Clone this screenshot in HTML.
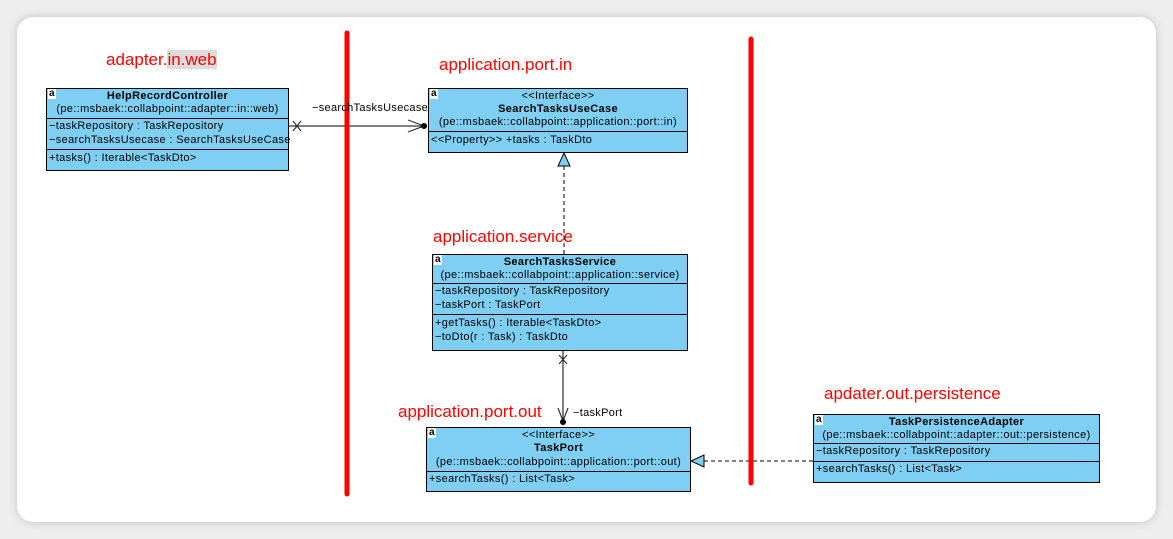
<!DOCTYPE html>
<html><head><meta charset="utf-8"><style>
html,body{margin:0;padding:0}
body{width:1173px;height:539px;background:#eeeeee;position:relative;overflow:hidden;font-family:"Liberation Sans",sans-serif}
.card{position:absolute;left:17px;top:17px;width:1139px;height:505px;background:#fff;border-radius:16px;box-shadow:0 0 10px rgba(0,0,0,0.18)}
.box{position:absolute;background:#7ecff3;border:1px solid #000;font-size:11px;letter-spacing:0.35px;color:#000;box-sizing:border-box}
.box .t{position:absolute;left:0;right:0;text-align:center;white-space:nowrap;line-height:13px}
.box .l{position:absolute;left:2px;white-space:nowrap;line-height:13px}
.box .d{position:absolute;left:0;right:0;border-top:1px solid #000;height:0}
.box .a{position:absolute;left:1px;top:0;font-size:10px;font-weight:bold;background:#fff;line-height:10px;padding:0 1px;letter-spacing:0}
.b{font-weight:bold}
.red{position:absolute;color:#ff0000;font-size:17px;white-space:nowrap}
.lbl{position:absolute;font-size:11px;letter-spacing:0.3px;white-space:nowrap}
</style></head><body>
<div class="card"></div>
<svg width="1173" height="539" style="position:absolute;left:0;top:0">
<line x1="288" y1="126" x2="422" y2="126" stroke="#000" stroke-width="1"/>
<path d="M293 121 L301 131 M301 121 L293 131" stroke="#333" stroke-width="1.2"/>
<path d="M408 120 L424 126 L408 132" stroke="#333" fill="none" stroke-width="1.2"/>
<circle cx="424" cy="126" r="3" fill="#000"/>
<line x1="564" y1="166" x2="564" y2="254" stroke="#000" stroke-dasharray="4,3"/>
<polygon points="564,153 558,166 570,166" fill="#7ecff3" stroke="#000"/>
<line x1="563" y1="350" x2="563" y2="421" stroke="#000"/>
<path d="M559 355 L567 364 M567 355 L559 364" stroke="#333" stroke-width="1.2"/>
<path d="M558 408 L563 421 L568 408" stroke="#333" fill="none" stroke-width="1.2"/>
<circle cx="563" cy="422" r="3" fill="#000"/>
<line x1="704" y1="461" x2="813" y2="461" stroke="#000" stroke-dasharray="4,3"/>
<polygon points="691,461 704,455 704,467" fill="#7ecff3" stroke="#000"/>
<line x1="347" y1="33" x2="347" y2="494" stroke="#ff0000" stroke-width="5" stroke-linecap="round"/>
<line x1="751" y1="39" x2="751" y2="483" stroke="#ff0000" stroke-width="5" stroke-linecap="round"/>
</svg>
<div class="lbl" style="left:312px;top:102px">−searchTasksUsecase</div>
<div class="lbl" style="left:573px;top:407px">−taskPort</div>

<div class="red" style="left:106px;top:50px">adapter.<span style="background:#dcdcdc">in.web</span></div>
<div class="red" style="left:439px;top:55px">application.port.in</div>
<div class="red" style="left:433px;top:227px">application.service</div>
<div class="red" style="left:398px;top:402px">application.port.out</div>
<div class="red" style="left:824px;top:384px">apdater.out.persistence</div>

<div class="box" style="left:46px;top:88px;width:243px;height:83px">
<span class="a">a</span>
<div class="t b" style="top:1px">HelpRecordController</div>
<div class="t" style="top:14px">(pe::msbaek::collabpoint::adapter::in::web)</div>
<div class="d" style="top:29px"></div>
<div class="l" style="top:31px">−taskRepository : TaskRepository</div>
<div class="l" style="top:45px">−searchTasksUsecase : SearchTasksUseCase</div>
<div class="d" style="top:60px"></div>
<div class="l" style="top:63px">+tasks() : Iterable&lt;TaskDto&gt;</div>
</div>

<div class="box" style="left:428px;top:88px;width:260px;height:65px">
<span class="a">a</span>
<div class="t" style="top:1px">&lt;&lt;Interface&gt;&gt;</div>
<div class="t b" style="top:14px">SearchTasksUseCase</div>
<div class="t" style="top:27px">(pe::msbaek::collabpoint::application::port::in)</div>
<div class="d" style="top:42px"></div>
<div class="l" style="top:45px">&lt;&lt;Property&gt;&gt; +tasks : TaskDto</div>
</div>

<div class="box" style="left:432px;top:254px;width:256px;height:97px">
<span class="a">a</span>
<div class="t b" style="top:1px">SearchTasksService</div>
<div class="t" style="top:14px">(pe::msbaek::collabpoint::application::service)</div>
<div class="d" style="top:28px"></div>
<div class="l" style="top:30px">−taskRepository : TaskRepository</div>
<div class="l" style="top:44px">−taskPort : TaskPort</div>
<div class="d" style="top:59px"></div>
<div class="l" style="top:62px">+getTasks() : Iterable&lt;TaskDto&gt;</div>
<div class="l" style="top:76px">−toDto(r : Task) : TaskDto</div>
</div>

<div class="box" style="left:426px;top:427px;width:265px;height:65px">
<span class="a">a</span>
<div class="t" style="top:1px">&lt;&lt;Interface&gt;&gt;</div>
<div class="t b" style="top:14px">TaskPort</div>
<div class="t" style="top:28px">(pe::msbaek::collabpoint::application::port::out)</div>
<div class="d" style="top:43px"></div>
<div class="l" style="top:45px">+searchTasks() : List&lt;Task&gt;</div>
</div>

<div class="box" style="left:813px;top:414px;width:287px;height:69px">
<span class="a">a</span>
<div class="t b" style="top:1px">TaskPersistenceAdapter</div>
<div class="t" style="top:14px">(pe::msbaek::collabpoint::adapter::out::persistence)</div>
<div class="d" style="top:28px"></div>
<div class="l" style="top:30px">−taskRepository : TaskRepository</div>
<div class="d" style="top:46px"></div>
<div class="l" style="top:48px">+searchTasks() : List&lt;Task&gt;</div>
</div>
</body></html>
